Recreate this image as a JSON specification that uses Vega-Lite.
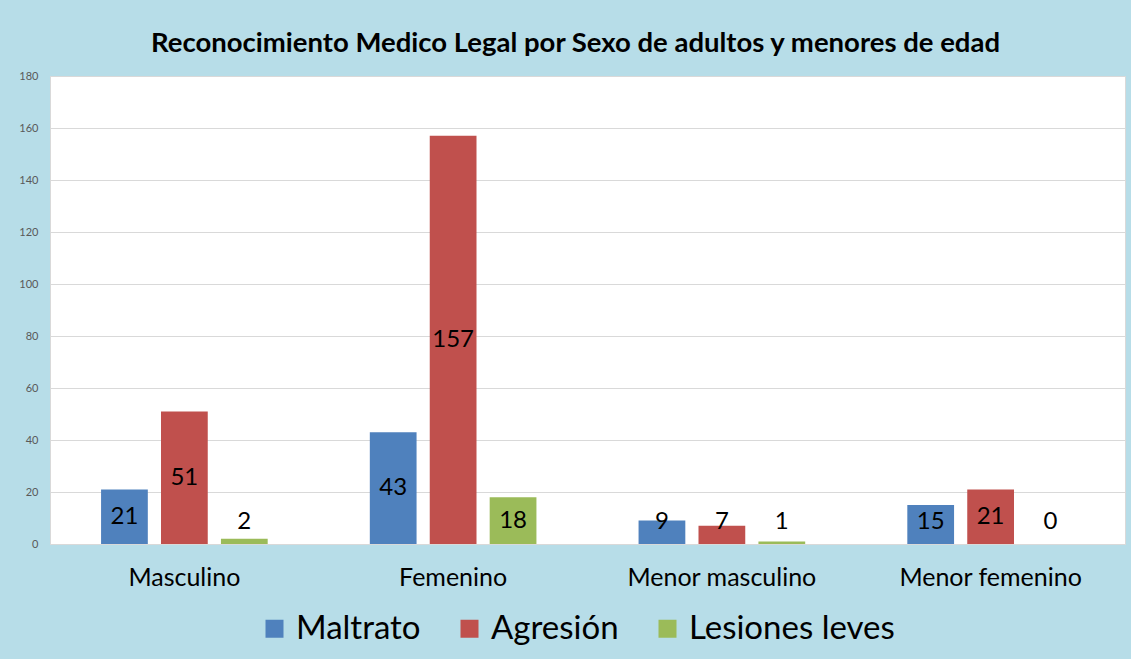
{
  "$schema": "https://vega.github.io/schema/vega-lite/v6.json",
  "width": 1075,
  "height": 468,
  "autosize": "none",
  "padding": {"left": 50, "top": 76, "right": 6, "bottom": 115},
  "background": "#B7DDE8",
  "title": {
    "text": "Reconocimiento Medico Legal por Sexo de adultos y menores de edad",
    "font": "Lato",
    "fontSize": 27.5,
    "fontWeight": "bold",
    "color": "#000000",
    "anchor": "middle",
    "dx": -12,
    "offset": 13
  },
  "config": {
    "view": {"fill": "#FFFFFF", "stroke": "#D9D9D9"},
    "font": "Lato"
  },
  "data": {
    "values": [
      {"categoria": "Masculino", "serie": "Maltrato", "valor": 21},
      {"categoria": "Masculino", "serie": "Agresión", "valor": 51},
      {"categoria": "Masculino", "serie": "Lesiones leves", "valor": 2},
      {"categoria": "Femenino", "serie": "Maltrato", "valor": 43},
      {"categoria": "Femenino", "serie": "Agresión", "valor": 157},
      {"categoria": "Femenino", "serie": "Lesiones leves", "valor": 18},
      {"categoria": "Menor masculino", "serie": "Maltrato", "valor": 9},
      {"categoria": "Menor masculino", "serie": "Agresión", "valor": 7},
      {"categoria": "Menor masculino", "serie": "Lesiones leves", "valor": 1},
      {"categoria": "Menor femenino", "serie": "Maltrato", "valor": 15},
      {"categoria": "Menor femenino", "serie": "Agresión", "valor": 21},
      {"categoria": "Menor femenino", "serie": "Lesiones leves", "valor": 0}
    ]
  },
  "encoding": {
    "x": {
      "field": "categoria",
      "type": "nominal",
      "sort": ["Masculino", "Femenino", "Menor masculino", "Menor femenino"],
      "scale": {"paddingInner": 0.38, "paddingOuter": 0.19},
      "axis": {
        "title": null,
        "labelAngle": 0,
        "labelFontSize": 25,
        "labelColor": "#000000",
        "labelPadding": 21,
        "labelLimit": 400,
        "ticks": false,
        "domain": false
      }
    },
    "xOffset": {
      "field": "serie",
      "sort": ["Maltrato", "Agresión", "Lesiones leves"],
      "scale": {"paddingInner": 0.22}
    }
  },
  "layer": [
    {
      "mark": {"type": "bar"},
      "encoding": {
        "y": {
          "field": "valor",
          "type": "quantitative",
          "scale": {"domain": [0, 180], "nice": false},
          "axis": {
            "title": null,
            "values": [0, 20, 40, 60, 80, 100, 120, 140, 160, 180],
            "labelFontSize": 11,
            "labelColor": "#595959",
            "labelPadding": 12,
            "ticks": false,
            "domain": false,
            "gridColor": "#D9D9D9",
            "gridWidth": 1
          }
        },
        "color": {
          "field": "serie",
          "type": "nominal",
          "sort": ["Maltrato", "Agresión", "Lesiones leves"],
          "scale": {
            "domain": ["Maltrato", "Agresión", "Lesiones leves"],
            "range": ["#4F81BD", "#C0504D", "#9BBB59"]
          },
          "legend": {
            "title": null,
            "orient": "none",
            "direction": "horizontal",
            "legendX": 208,
            "legendY": 536,
            "symbolType": "square",
            "symbolSize": 324,
            "symbolStrokeWidth": 0,
            "labelFontSize": 33,
            "labelColor": "#000000",
            "labelOffset": 5,
            "columnPadding": 32,
            "labelLimit": 400
          }
        }
      }
    },
    {
      "transform": [
        {"calculate": "max(datum.valor / 2, 8.6)", "as": "posEtiqueta"}
      ],
      "mark": {"type": "text", "fontSize": 24, "color": "#000000", "baseline": "middle", "align": "center"},
      "encoding": {
        "y": {"field": "posEtiqueta", "type": "quantitative"},
        "text": {"field": "valor", "type": "quantitative"}
      }
    }
  ]
}
